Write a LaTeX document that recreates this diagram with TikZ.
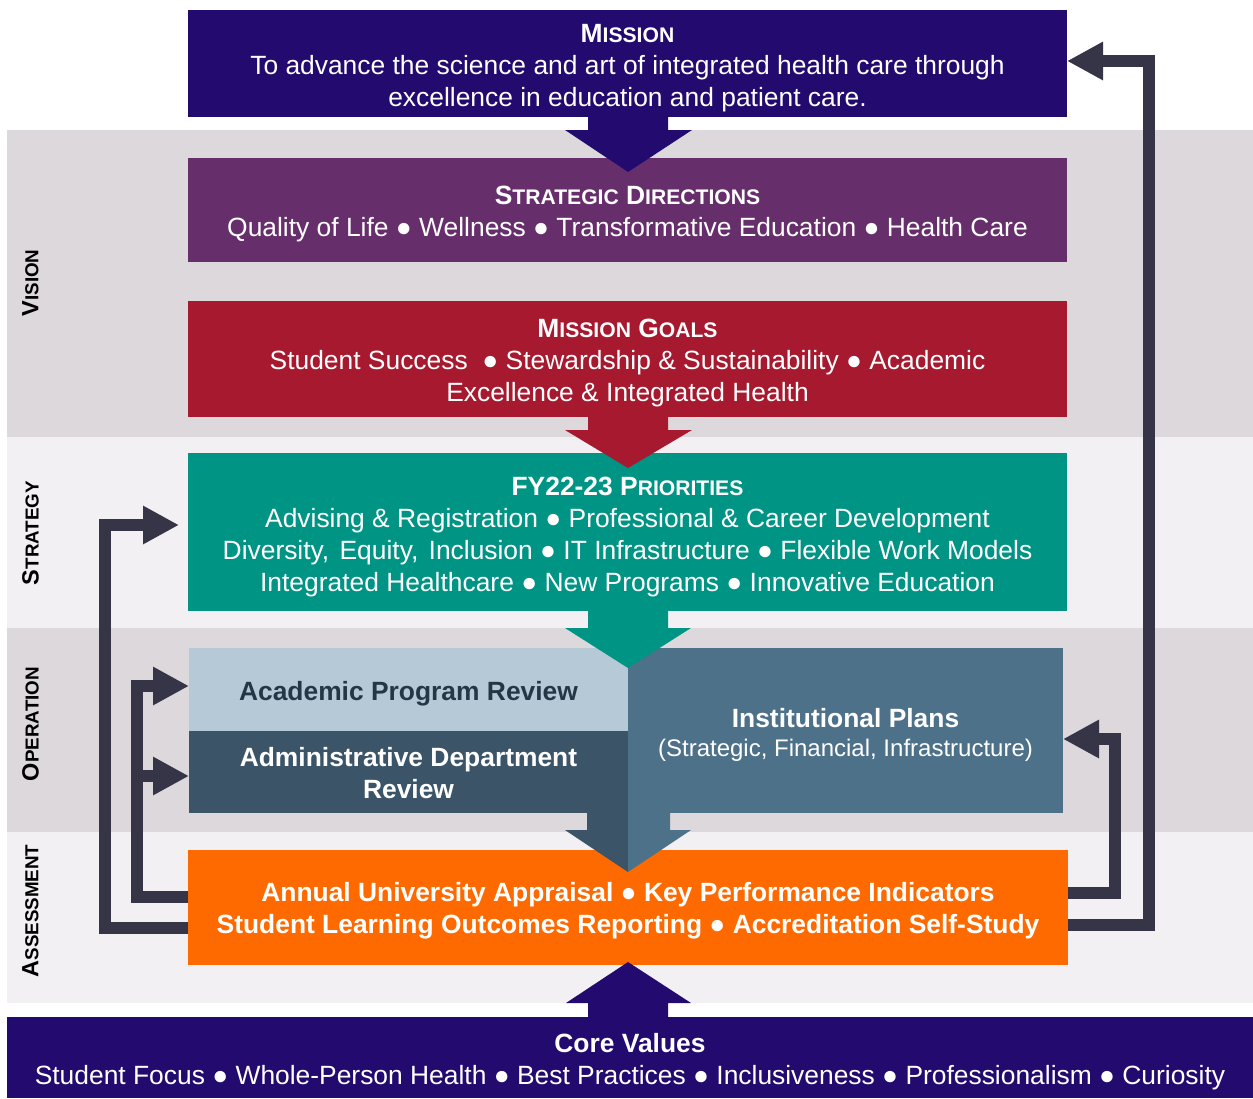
\documentclass[tikz,border=0pt]{standalone}
\usepackage{fontspec}
\setmainfont{Liberation Sans}
\usetikzlibrary{arrows.meta}
\definecolor{missionc}{HTML}{220A6E}
\definecolor{sdc}{HTML}{672E6C}
\definecolor{mgc}{HTML}{A6192E}
\definecolor{tealc}{HTML}{009484}
\definecolor{acadc}{HTML}{B6C9D6}
\definecolor{adminc}{HTML}{3B5468}
\definecolor{instc}{HTML}{4E718A}
\definecolor{orangec}{HTML}{FF6A00}
\definecolor{connc}{HTML}{363447}
\definecolor{bandgray}{HTML}{DCD8DC}
\definecolor{bandlight}{HTML}{F2F0F3}
\definecolor{acadtext}{HTML}{253746}
\makeatletter
\newcommand\smc[1]{{\@tempdima=\f@size pt\@tempdima=0.8\@tempdima\fontsize{\strip@pt\@tempdima}{\baselineskip}\selectfont #1}}
\makeatother
\tikzset{
  box/.style={inner sep=0pt, outer sep=0pt},
  txt/.style={inner sep=0pt, align=center, text=white, yshift=-4pt,
    font=\fontsize{26.4}{32}\selectfont},
  lbl/.style={inner sep=0pt, rotate=90, font=\fontsize{23.5}{28}\selectfont\bfseries},
  conn/.style={draw=connc, line width=12pt, line join=miter,
    -{Triangle[length=36pt,width=36pt]}},
}
\begin{document}
\begin{tikzpicture}[x=1pt,y=-1pt]
\useasboundingbox (0,0) rectangle (1253,1098);
\fill[white] (0,0) rectangle (1253,1098);
% bands
\fill[bandgray] (7,130) rectangle (1253,437);
\fill[bandlight] (7,437) rectangle (1253,628);
\fill[bandgray] (7,628) rectangle (1253,832);
\fill[bandlight] (7,832) rectangle (1253,1003);
% labels
\node[lbl] (lvision) at (30.5,283) {V\smc{ISION}};
\node[lbl] (lstrategy) at (30.5,533) {S\smc{TRATEGY}};
\node[lbl] (loperation) at (30.5,724) {O\smc{PERATION}};
\node[lbl] (lassess) at (30.5,911) {A\smc{SSESSMENT}};
% boxes
\node[box, fill=missionc, minimum width=879pt, minimum height=107pt] (mission) at (627.5,63.5) {};
\node[box, fill=sdc, minimum width=879pt, minimum height=104pt] (sd) at (627.5,210) {};
\node[box, fill=mgc, minimum width=879pt, minimum height=116pt] (mg) at (627.5,359) {};
\node[box, fill=tealc, minimum width=879pt, minimum height=158pt] (fy) at (627.5,532) {};
\node[box, fill=acadc, minimum width=439pt, minimum height=83pt] (acad) at (408.5,689.5) {};
\node[box, fill=adminc, minimum width=439pt, minimum height=82pt] (admin) at (408.5,772) {};
\node[box, fill=instc, minimum width=435pt, minimum height=165pt] (inst) at (845.5,730.5) {};
\node[box, fill=orangec, minimum width=880pt, minimum height=115pt] (orange) at (628,907.5) {};
\node[box, fill=missionc, minimum width=1246pt, minimum height=81pt] (core) at (630,1057.5) {};
% texts
\node[txt, yshift=-1pt] (missiont) at (mission.center)
  {{\bfseries M\smc{ISSION}}\\To advance the science and art of integrated health care through\\excellence in education and patient care.};
\node[txt] (sdt) at (sd.center)
  {{\bfseries S\smc{TRATEGIC} D\smc{IRECTIONS}}\\Quality of Life ● Wellness ● Transformative Education ● Health Care};
\node[txt] (mgt) at (mg.center)
  {{\bfseries M\smc{ISSION} G\smc{OALS}}\\Student Success\ \ ● Stewardship \& Sustainability ● Academic\\Excellence \& Integrated Health};
\node[txt, yshift=-1pt] (fyt) at (fy.center)
  {{\bfseries FY22-23 P\smc{RIORITIES}}\\Advising \& Registration ● Professional \& Career Development\\Diversity,\hspace{3pt} Equity,\hspace{3pt} Inclusion ● IT Infrastructure ● Flexible Work Models\\Integrated Healthcare ● New Programs ● Innovative Education};
\node[txt, text=acadtext, font=\fontsize{26.4}{32}\selectfont\bfseries] (acadt) at (acad.center)
  {Academic Program Review};
\node[txt, yshift=3pt, font=\fontsize{26.4}{32}\selectfont\bfseries] (admint) at (admin.center)
  {Administrative Department\\Review};
\node[txt] (instt) at (inst.center)
  {{\bfseries Institutional Plans}\\[-3pt]{\fontsize{24}{30}\selectfont (Strategic, Financial, Infrastructure)}};
\node[txt, yshift=1pt, font=\fontsize{26.4}{32}\selectfont\bfseries] (oranget) at (orange.center)
  {Annual University Appraisal ● Key Performance Indicators\\Student Learning Outcomes Reporting ● Accreditation Self-Study};
\node[txt] (coret) at (core.center)
  {{\bfseries Core Values}\\Student Focus ● Whole-Person Health ● Best Practices ● Inclusiveness ● Professionalism ● Curiosity};
% block arrows
\fill[missionc] (588,116) -- (668,116) -- (668,130) -- (692,130) -- (628,172) -- (565,130) -- (588,130) -- cycle;
\fill[mgc] (588,416) -- (668,416) -- (668,430) -- (692,430) -- (628,468) -- (565,430) -- (588,430) -- cycle;
\fill[tealc] (588,610) -- (668,610) -- (668,628) -- (691,628) -- (628,668) -- (565,628) -- (588,628) -- cycle;
\fill[adminc] (587,812) -- (628,812) -- (628,872) -- (565,830) -- (587,830) -- cycle;
\fill[instc] (628,812) -- (670,812) -- (670,830) -- (691,830) -- (628,872) -- cycle;
\fill[missionc] (588,1018) -- (588,1003) -- (566,1003) -- (628,962) -- (691,1003) -- (668,1003) -- (668,1018) -- cycle;
% connector coordinates
\coordinate (L1b) at (105,928);
\coordinate (L1t) at (105,525);
\coordinate (L1e) at (179,525);
\coordinate (L2b) at (137,897);
\coordinate (L2t) at (137,686);
\coordinate (L2m) at (137,776);
\coordinate (R1b) at (1115,893);
\coordinate (R1t) at (1115,739);
\coordinate (R2b) at (1149,925);
\coordinate (R2t) at (1149,61);
% connectors
\draw[conn] (orange.west |- L1b) -- (L1b) -- (L1t) -- (L1e);
\draw[conn] (orange.west |- L2b) -- (L2b) -- (L2t) -- (acad.west |- L2t);
\draw[conn] (L2m) -- (admin.west |- L2m);
\draw[conn] (orange.east |- R1b) -- (R1b) -- (R1t) -- (inst.east |- R1t);
\draw[conn] (orange.east |- R2b) -- (R2b) -- (R2t) -- (mission.east |- R2t);
\end{tikzpicture}
\end{document}
